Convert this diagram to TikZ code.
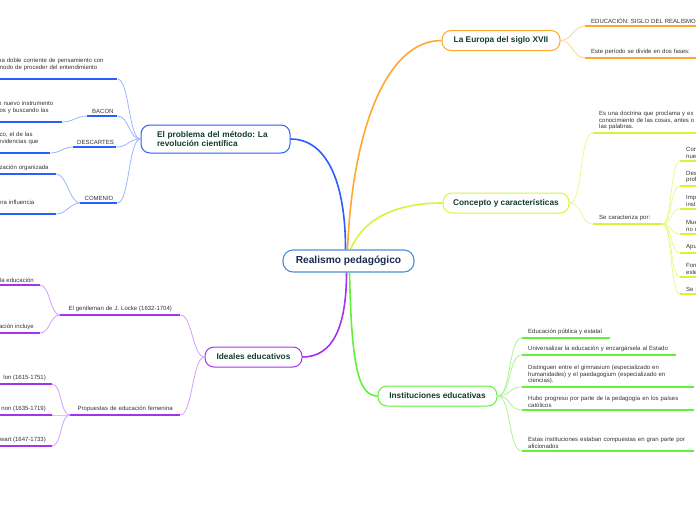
\documentclass[tikz,border=0pt]{standalone}
\usepackage{fontspec}
\setmainfont{Liberation Sans}
\usetikzlibrary{calc}

\definecolor{rootblue}{HTML}{4A90D9}
\definecolor{roottext}{HTML}{1B2A4E}
\definecolor{topictext}{HTML}{123D30}
\definecolor{leaftext}{HTML}{333333}
\definecolor{probblue}{HTML}{2B5EFF}
\definecolor{probsub}{HTML}{9AB5FF}
\definecolor{euroorange}{HTML}{FFA82E}
\definecolor{eurosub}{HTML}{FFD28F}
\definecolor{concyellow}{HTML}{D4F53A}
\definecolor{concsub}{HTML}{E8FA8C}
\definecolor{idealpurple}{HTML}{A632F0}
\definecolor{idealsub}{HTML}{D49EFA}
\definecolor{instgreen}{HTML}{62F03C}
\definecolor{instsub}{HTML}{ABF594}

\begin{document}
\frenchspacing
\begin{tikzpicture}[x=1pt, y=-1pt,
    rootbox/.style={draw=rootblue, line width=1.1pt, fill=white, rounded corners=10pt,
      minimum width=131pt, minimum height=22pt, text=roottext,
      font=\fontsize{10.2}{12}\selectfont\bfseries},
    topicbox/.style={draw=#1, line width=1pt, fill=white, rounded corners=9pt,
      minimum height=20pt, text=topictext, font=\fontsize{8.3}{9}\selectfont\bfseries},
    leafnode/.style={anchor=south west, align=left, inner xsep=6pt, inner ysep=2.6pt,
      text=leaftext, font=\fontsize{6}{6.7}\selectfont},
    branch/.style={draw=#1, line width=1.6pt},
    twig/.style={draw=#1, line width=0.8pt},
    leafline/.style={draw=#1, line width=1.8pt}]
    \useasboundingbox (0,0) rectangle (696,520);
    \clip (0,0) rectangle (696,520);

    % centro y temas
    \node[rootbox] (root) at (348.5,261) {Realismo pedagógico};
    \node[topicbox=probblue, minimum width=149pt, minimum height=28pt, text width=117pt,
      inner xsep=16pt, align=left] (prob) at (215.5,139) {El problema del método: La\\revolución científica};
    \node[topicbox=euroorange, minimum width=118pt] (euro) at (501,40.5) {La Europa del siglo XVII};
    \node[topicbox=concyellow, minimum width=126pt] (conc) at (506,203) {Concepto y características};
    \node[topicbox=idealpurple, minimum width=97pt] (ideal) at (253.5,357) {Ideales educativos};
    \node[topicbox=instgreen, minimum width=119pt] (inst) at (437.5,396) {Instituciones educativas};

    \path[branch=probblue]([xshift=-3pt]root.north) .. controls +(0,-70) and +(35,0) .. (prob.east);
    \path[branch=euroorange]([xshift=-1pt]root.north) .. controls +(5,-120) and +(-55,0) .. (euro.west);
    \path[branch=concyellow]([xshift=2pt]root.north) .. controls +(15,-35) and +(-40,0) .. (conc.west);
    \path[branch=idealpurple]([xshift=-2pt]root.south) .. controls +(0,55) and +(30,0) .. (ideal.east);
    \path[branch=instgreen]([xshift=1pt]root.south) .. controls +(2,90) and +(-20,0) .. (inst.west);

    % La Europa del siglo XVII
    \node[leafnode, text width=150pt] (euro1) at (585,26) {EDUCACIÓN: SIGLO DEL REALISMO P};
    \node[leafnode, text width=150pt] (euro2) at (585,58) {Este período se divide en dos fases:};
    \foreach \n in {euro1,euro2}{
      \path[leafline=euroorange](\n.south west)to(\n.south east);
      \path[twig=eurosub](euro.east) .. controls +(12,0) and +(-12,0) .. (\n.south west);
    }

    % Concepto y caracteristicas
    \node[leafnode, text width=150pt] (conc1) at (593,133) {Es una doctrina que proclama y ex\\conocimiento de las cosas, antes o\\las palabras.};
    \node[leafnode, text width=57pt] (conc2) at (593,224) {Se caracteriza por:};
    \foreach \n in {conc1,conc2}{
      \path[leafline=concyellow](\n.south west)to(\n.south east);
      \path[twig=concsub](conc.east) .. controls +(14,0) and +(-14,0) .. (\n.south west);
    }
    \foreach \i/\y/\txt in {1/161/{Con\\nue}, 2/186/{Des\\prof}, 3/209/{Imp\\inst}, 4/234/{Mue\\no c},
        5/253/{Apu}, 6/277/{Forr\\este}, 7/294/{Se i}}{
      \node[leafnode, text width=40pt] (car\i) at (680,\y) {\txt};
      \path[leafline=concyellow](car\i.south west)to(car\i.south east);
      \path[twig=concsub](conc2.south east) .. controls +(10,0) and +(-10,0) .. (car\i.south west);
    }

    % Instituciones educativas
    \node[leafnode, text width=76pt] (inst1) at (522,338) {Educación pública y estatal};
    \node[leafnode, text width=142pt] (inst2) at (522,355) {Universalizar la educación y encargársela al Estado};
    \node[leafnode, text width=160pt] (inst3) at (522,387) {Distinguen entre el gimnasium (especializado en\\humanidades) y el paedagogium (especializado en\\ciencias).};
    \node[leafnode, text width=160pt] (inst4) at (522,410) {Hubo progreso por parte de la pedagogía en los países\\católicos};
    \node[leafnode, text width=160pt] (inst5) at (522,451) {Estas instituciones estaban compuestas en gran parte por\\aficionados};
    \foreach \n in {inst1,inst2,inst3,inst4,inst5}{
      \path[leafline=instgreen](\n.south west)to(\n.south east);
      \path[twig=instsub](inst.east) .. controls +(14,0) and +(-14,0) .. (\n.south west);
    }

    % El problema del metodo
    \node[leafnode, text width=113pt] (met) at (-8,79) {na doble corriente de pensamiento con\\modo de proceder del entendimiento\\\mbox{}};
    \node[leafnode, text width=20pt, inner xsep=5pt, align=center] (bacon) at (87,116) {BACON};
    \node[leafnode, text width=35pt, inner xsep=4pt, align=center] (desc) at (73,147) {DESCARTES};
    \node[leafnode, text width=28pt, inner xsep=4.5pt, align=center] (com) at (80,203) {COMENIO};
    \foreach \n in {met,bacon,desc,com}{
      \path[leafline=probblue](\n.south west)to(\n.south east);
      \path[twig=probsub](\n.south east) .. controls +(12,0) and +(-12,0) .. (prob.west);
    }
    \node[leafnode, text width=58pt] (bacon1) at (-8,122) {o nuevo instrumento\\ios y buscando las\\\mbox{}};
    \node[leafnode, text width=46pt] (desc1) at (-8,153) {ico, el de las\\evidencias que\\\mbox{}};
    \node[leafnode, text width=52pt] (com1) at (-8,174) {ización organizada};
    \node[leafnode, text width=52pt] (com2) at (-8,214) {era influencia\\\mbox{}};
    \foreach \n/\p in {bacon1/bacon,desc1/desc,com1/com,com2/com}{
      \path[leafline=probblue](\n.south west)to(\n.south east);
      \path[twig=probsub](\n.south east) .. controls +(10,0) and +(-10,0) .. (\p.south west);
    }

    % Ideales educativos
    \node[leafnode, text width=108pt, align=center] (gent) at (60,315) {El gentleman de J. Locke (1632-1704)};
    \node[leafnode, text width=98pt, align=center] (fem) at (70,415) {Propuestas de educación femenina};
    \foreach \n in {gent,fem}{
      \path[leafline=idealpurple](\n.south west)to(\n.south east);
      \path[twig=idealsub](\n.south east) .. controls +(12,0) and +(-12,0) .. (ideal.west);
    }
    \node[leafnode, anchor=south east] (gent1) at (40,285) {la educación};
    \node[leafnode, anchor=south east] (gent2) at (40,333) {ación incluye};
    \node[leafnode, anchor=south east] (fem1) at (52,384) {lon (1615-1751)};
    \node[leafnode, anchor=south east] (fem2) at (52,415) {non (1635-1719)};
    \node[leafnode, anchor=south east] (fem3) at (52,446) {wart (1647-1733)};
    \foreach \n/\p in {gent1/gent,gent2/gent,fem1/fem,fem2/fem,fem3/fem}{
      \path[leafline=idealpurple](\n.south west)to(\n.south east);
      \path[twig=idealsub](\n.south east) .. controls +(10,0) and +(-10,0) .. (\p.south west);
    }
\end{tikzpicture}
\end{document}
